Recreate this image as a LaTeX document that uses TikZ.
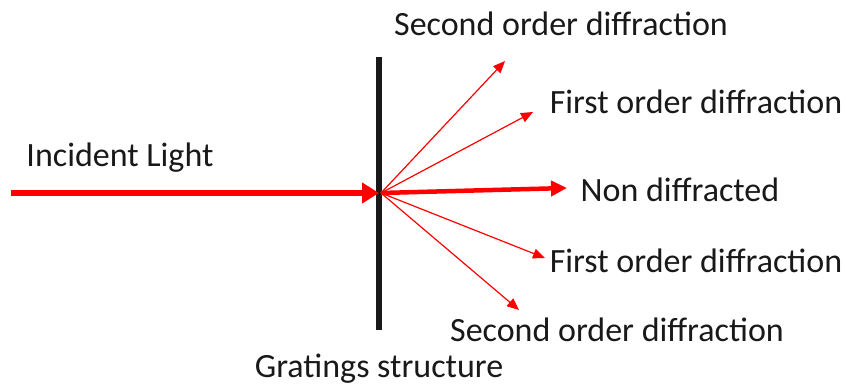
\documentclass[tikz,border=0pt]{standalone}
\usepackage{fontspec}
\setmainfont{Carlito}
\usetikzlibrary{arrows.meta}
\begin{document}
\begin{tikzpicture}[x=1pt,y=-1pt,
  lbl/.style={font=\fontsize{34}{40}\selectfont, inner sep=0pt, text=black!90},
  thin/.style={draw=red, line width=1.2pt, -{Triangle[length=12pt,width=10pt]}},
  thick/.style={draw=red, line width=6pt, -{Triangle[length=17pt,width=20pt]}}]
\useasboundingbox (0,0) rectangle (846,387);
\coordinate (f) at (381,193);
\coordinate (s) at (11,193);
\draw[line width=6pt, black!90] (379,57) -- (379,330);
\coordinate (su) at (505,61);
\coordinate (fu) at (533,112);
\coordinate (nd) at (567,188);
\coordinate (fd) at (545,258);
\coordinate (sd) at (519,310);
\draw[thick] (s) -- (379,193);
\draw[thin] (f) -- (su);
\draw[thin] (f) -- (fu);
\draw[draw=red, line width=4.5pt, -{Triangle[length=16pt,width=15pt]}] (f) -- (nd);
\draw[thin] (f) -- (fd);
\draw[thin] (f) -- (sd);
\node[lbl] (t1) at (561,24) {Second order diffraction};
\node[lbl] (t2) at (696,102) {First order diffraction};
\node[lbl] (t3) at (680,190) {Non diffracted};
\node[lbl] (t4) at (696,261) {First order diffraction};
\node[lbl] (t5) at (617,330) {Second order diffraction};
\node[lbl] (t6) at (379,369) {Gratings structure};
\node[lbl] (t7) at (120,158) {Incident Light};
\end{tikzpicture}
\end{document}
